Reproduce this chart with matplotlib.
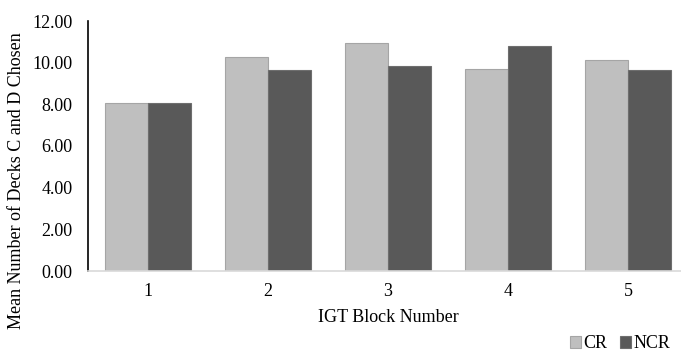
import numpy as np
import matplotlib.pyplot as plt

# Valores
blocos = ["1", "2", "3", "4", "5"]
cr = [8.05, 10.29, 10.93, 9.71, 10.13]
ncr = [8.05, 9.66, 9.82, 10.78, 9.66]

plt.rcParams['font.family'] = ['Liberation Serif', 'DejaVu Serif']

fig = plt.figure(figsize=(6.81, 3.53), dpi=100)
# eixo um pouco além da borda direita, como na figura original
ax = fig.add_axes([88/681, (353-271)/353, 600/681, 250/353])

x = np.arange(len(blocos))
w = 0.355
ax.bar(x - w/2, cr, width=w, color='#BFBFBF', edgecolor='#A5A5A5', linewidth=0.8, label='CR')
ax.bar(x + w/2, ncr, width=w, color='#595959', edgecolor='#6E6E6E', linewidth=0.8, label='NCR')

ax.set_ylim(0, 12)
ax.set_xlim(-0.5, 4.5)
ax.set_yticks(np.arange(0, 12.1, 2))
ax.set_yticklabels([f"{v:.2f}" for v in np.arange(0, 12.1, 2)], fontsize=13)
ax.set_xticks(x)
ax.set_xticklabels(blocos, fontsize=13)
ax.tick_params(axis='both', length=0)
ax.tick_params(axis='y', pad=11)
ax.tick_params(axis='x', pad=9)

for s in ['top', 'right']:
    ax.spines[s].set_visible(False)
ax.spines['left'].set_color('black')
ax.spines['left'].set_linewidth(1.2)
ax.spines['bottom'].set_color('#D9D9D9')
ax.spines['bottom'].set_linewidth(1.2)

fig.text(17/681, (353-181)/353, "Mean Number of Decks C and D Chosen", rotation=90,
         ha='center', va='center', fontsize=13)
fig.text(388/681, (353-318)/353, "IGT Block Number", ha='center', va='center', fontsize=13)

fig.legend(loc='center right', bbox_to_anchor=(0.998, (353-344)/353), ncol=2, frameon=False,
           fontsize=13, handlelength=0.6, handleheight=0.6, handletextpad=0.15, columnspacing=0.7,
           borderpad=0)

plt.savefig("out.png", dpi=100)
